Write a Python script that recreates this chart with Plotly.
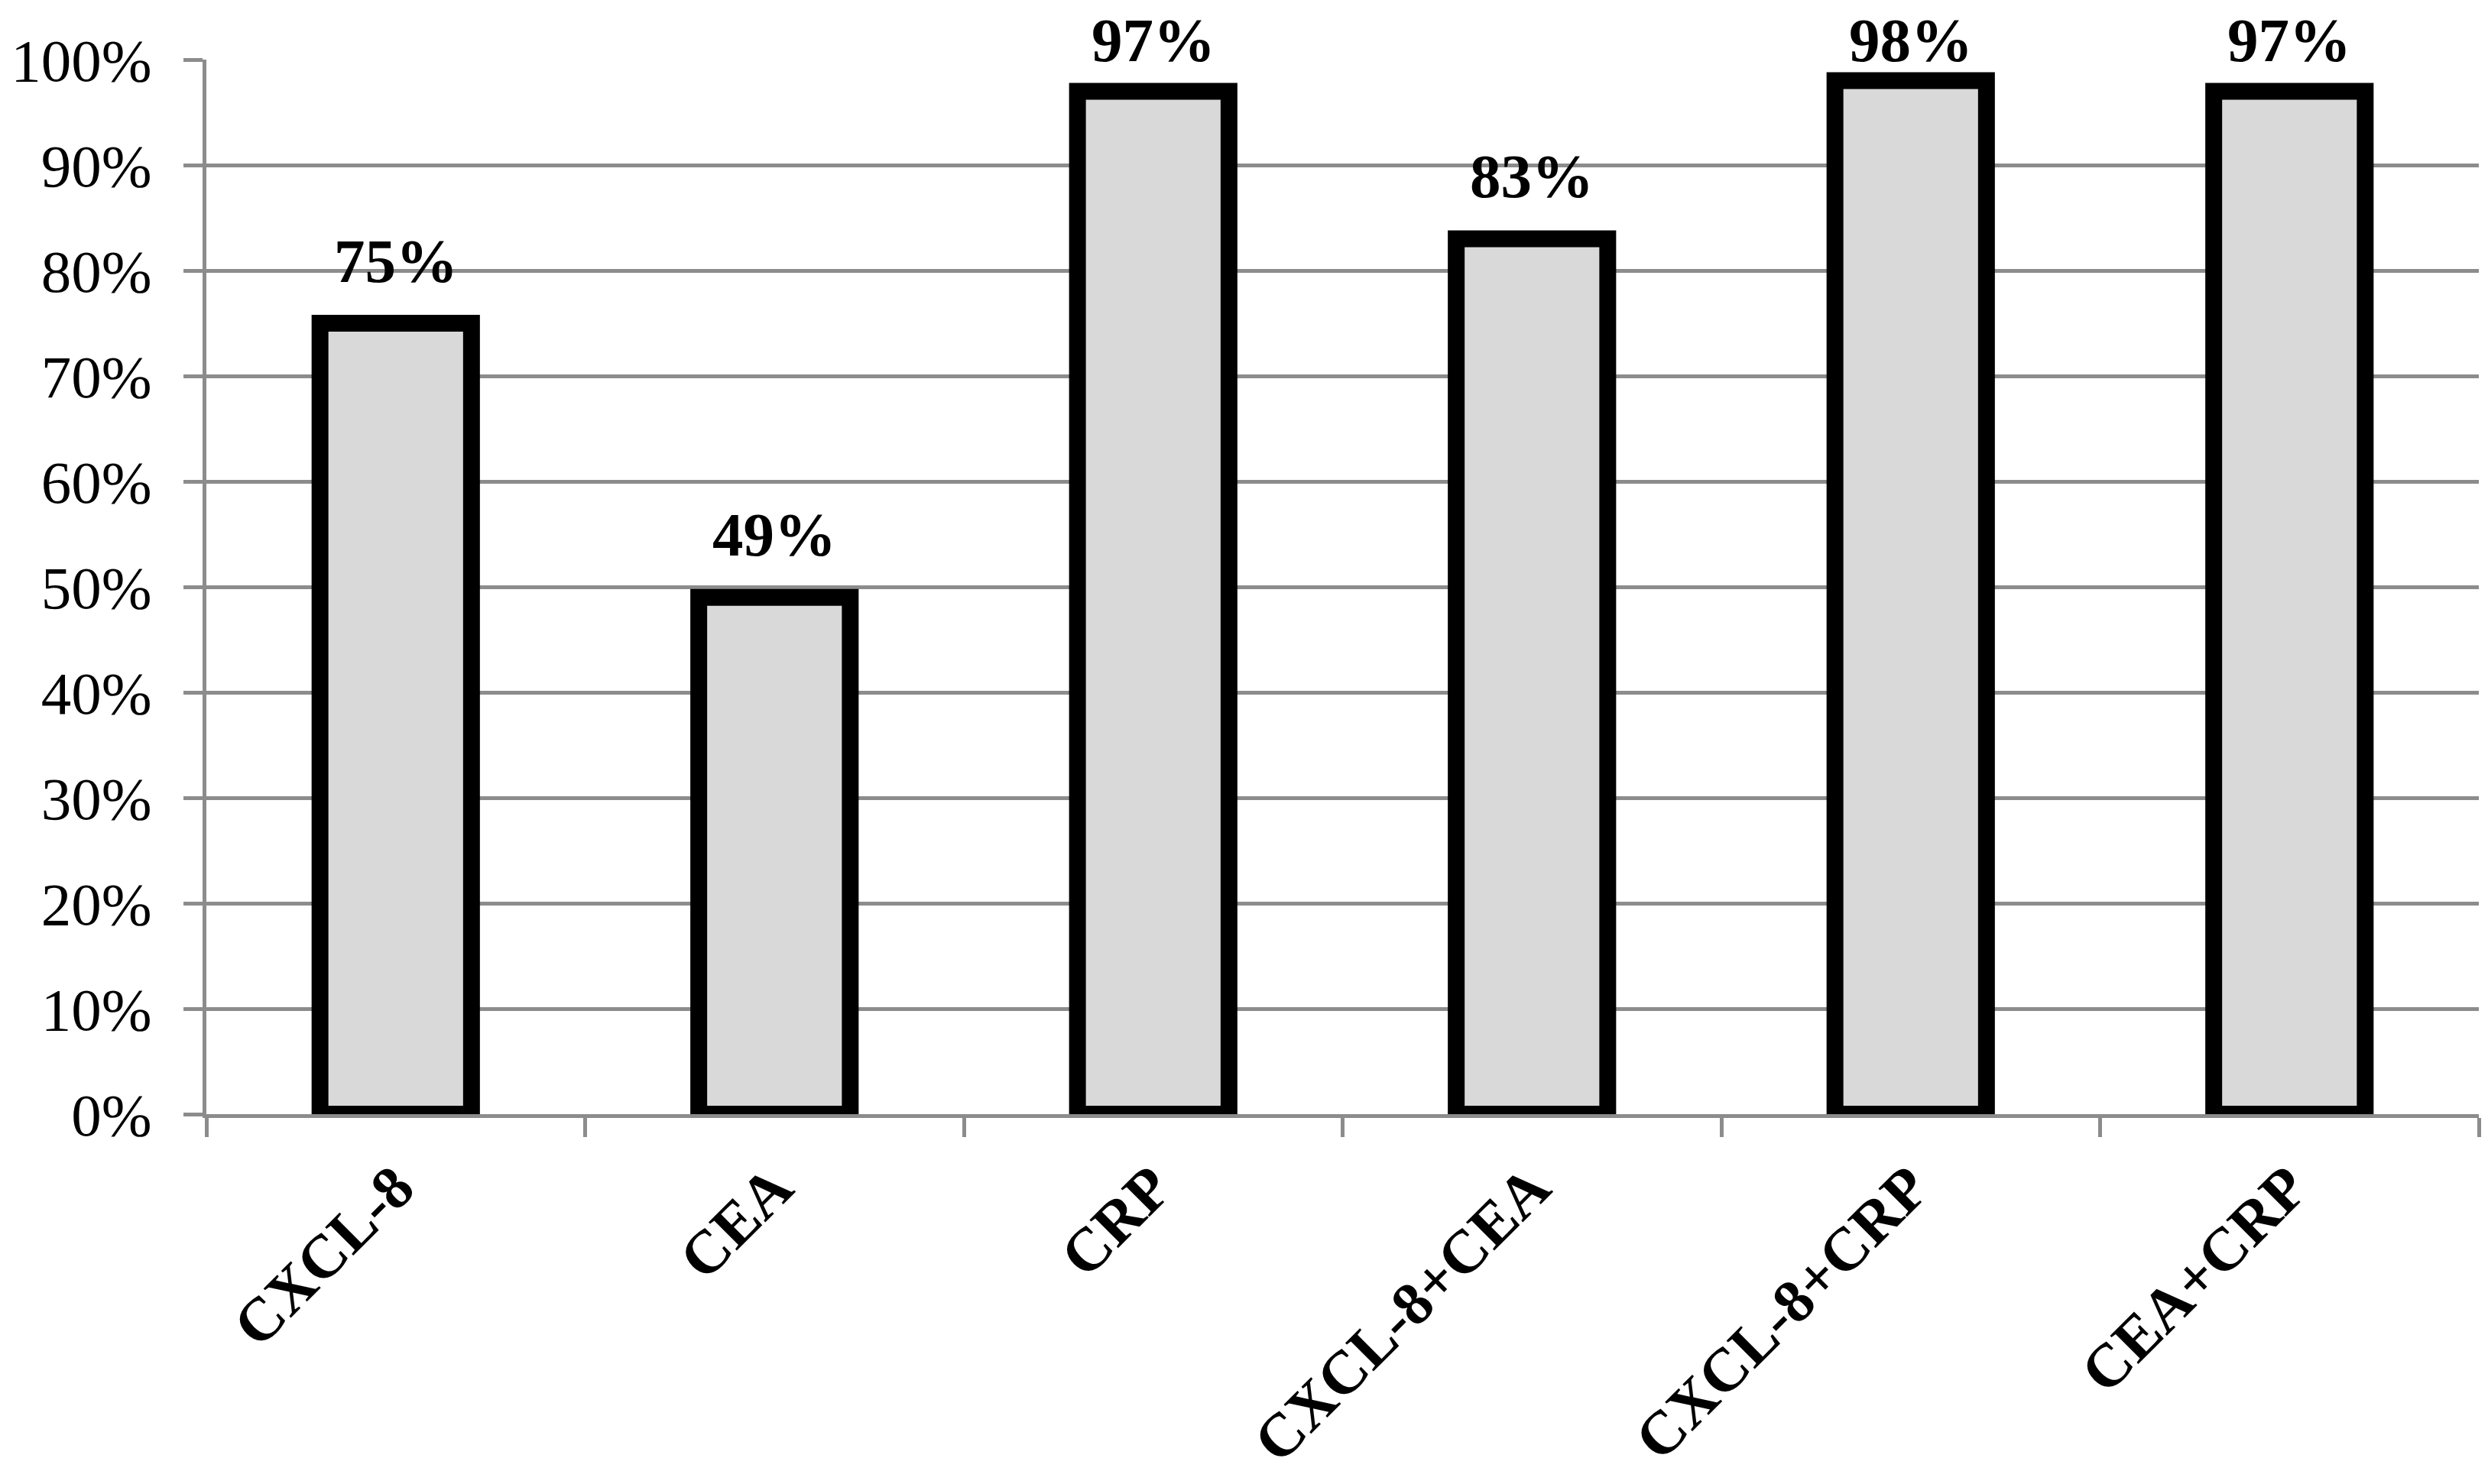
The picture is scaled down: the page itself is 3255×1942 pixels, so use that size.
import plotly.graph_objects as go

categories = ["CXCL-8", "CEA", "CRP", "CXCL-8+CEA", "CXCL-8+CRP", "CEA+CRP"]
sensitivity = [75, 49, 97, 83, 98, 97]
y_ticks = [0, 10, 20, 30, 40, 50, 60, 70, 80, 90, 100]
y_tick_labels = [f"{t}%" for t in y_ticks]

GRID = "#8c8c8c"
SERIF = "Liberation Serif, Times New Roman, serif"
Y_MAX = 100

fig = go.Figure()
fig.add_trace(go.Bar(
    x=categories,
    y=sensitivity,
    width=0.4,
    marker=dict(color="#d9d9d9", line=dict(color="black", width=22)),
    hoverinfo="skip",
))

label_gap = 5.9
label_cap = 101.8
for c, v in zip(categories, sensitivity):
    fig.add_annotation(
        x=c, y=min(v + label_gap, label_cap) / Y_MAX, xref="x", yref="paper",
        text=f"{v}%", showarrow=False, yanchor="middle", xanchor="center",
        font=dict(family=SERIF, size=81, color="black", weight="bold"),
    )

fig.update_layout(
    width=3255, height=1942,
    margin=dict(l=262, r=20, t=70, b=492, autoexpand=False),
    paper_bgcolor="white", plot_bgcolor="white",
    showlegend=False,
)
fig.update_xaxes(
    type="category",
    showline=True, linecolor=GRID, linewidth=4.5,
    showgrid=False,
    ticks="outside", tickson="boundaries", ticklen=25, tickwidth=4.5, tickcolor=GRID,
    tickangle=-45,
    tickfont=dict(family=SERIF, size=80, color="black", weight="bold"),
    ticklabelstandoff=12,
)
fig.update_yaxes(
    range=[0, Y_MAX],
    tickvals=y_ticks, ticktext=y_tick_labels,
    showgrid=True, gridcolor=GRID, gridwidth=4.5,
    showline=True, linecolor=GRID, linewidth=4.5,
    ticks="outside", ticklen=25, tickwidth=4.5, tickcolor=GRID,
    tickfont=dict(family=SERIF, size=79, color="black"),
    ticklabelstandoff=26,
    zeroline=False,
)

fig.write_html("out.html")
